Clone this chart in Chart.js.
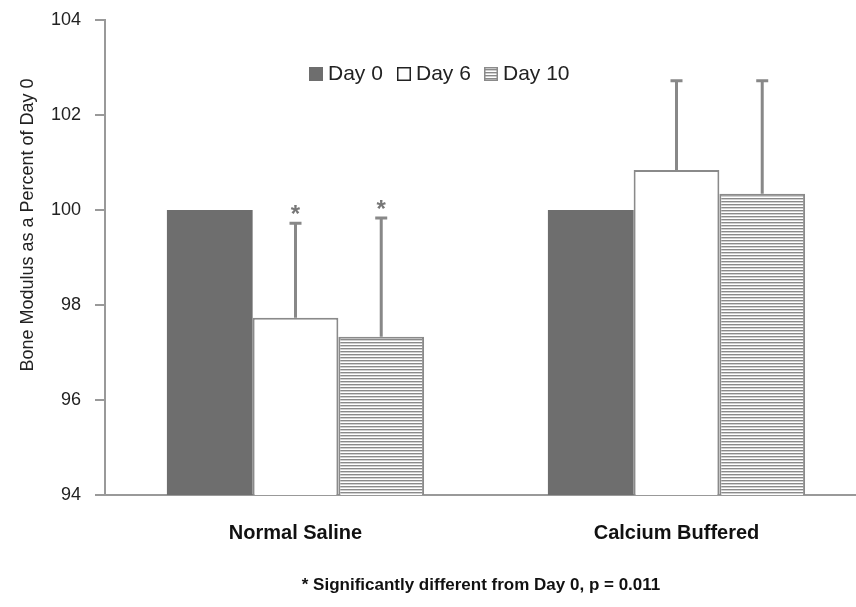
<!DOCTYPE html>
<html>
<head>
<meta charset="utf-8">
<script src="https://cdn.jsdelivr.net/npm/chart.js@4.4.1/dist/chart.umd.min.js"></script>
<style>
  html, body { margin: 0; padding: 0; background: #fff; overflow: hidden; }
  #obal { width: 856px; height: 607px; overflow: hidden; }
</style>
</head>
<body>
<div id="obal"><canvas id="myChart" width="867" height="607"></canvas></div>
<script>
let KATEGORIE = ['Normal Saline', 'Calcium Buffered'];
let SERIE = ['Day 0', 'Day 6', 'Day 10'];
let DEN0 = [100, 100];
let DEN6 = [97.73, 100.84];
let DEN10 = [97.33, 100.34];
let CHYBA0 = [0, 0];
let CHYBA6 = [1.99, 1.88];
let CHYBA10 = [2.5, 2.38];
let HVEZDA6 = [true, false];
let HVEZDA10 = [true, false];
let Y_TICKY = [94, 96, 98, 100, 102, 104];
let Y_NADPIS = 'Bone Modulus as a Percent of Day 0';
let POZNAMKA = '* Significantly different from Day 0, p = 0.011';

// pruhovaná výplň pro Day 10
function pruhy() {
    let c = document.createElement('canvas');
    c.width = 6; c.height = 3;
    let g = c.getContext('2d');
    g.fillStyle = '#ffffff';
    g.fillRect(0, 0, 6, 3);
    g.fillStyle = '#8a8a8a';
    g.fillRect(0, 0, 6, 1.4);
    return g.createPattern(c, 'repeat');
}
let vzor = pruhy();

let chyby = [CHYBA0, CHYBA6, CHYBA10];
let hvezdy = [[false, false], HVEZDA6, HVEZDA10];

let chybovePlugin = {
    id: 'chyby',
    afterDatasetsDraw(chart) {
        let c = chart.ctx;
        let y = chart.scales.y;
        chart.data.datasets.forEach((ds, d) => {
            let meta = chart.getDatasetMeta(d);
            meta.data.forEach((bar, i) => {
                let e = chyby[d][i];
                if (!e) return;
                let top = y.getPixelForValue(ds.data[i] + e);
                c.save();
                c.strokeStyle = '#888';
                c.lineWidth = 3;
                c.beginPath();
                c.moveTo(bar.x, bar.y);
                c.lineTo(bar.x, top);
                c.moveTo(bar.x - 6, top);
                c.lineTo(bar.x + 6, top);
                c.stroke();
                if (hvezdy[d][i]) {
                    c.fillStyle = '#777';
                    c.font = 'bold 24px "Liberation Sans", Arial';
                    c.textAlign = 'center';
                    c.textBaseline = 'alphabetic';
                    c.fillText('*', bar.x, top - 1);
                }
                c.restore();
            });
        });
    }
};

let legendaPlugin = {
    id: 'legenda',
    afterDraw(chart) {
        let c = chart.ctx;
        let polozky = [
            { x: 309, text: SERIE[0], fill: '#6e6e6e', stroke: '#6e6e6e' },
            { x: 397, text: SERIE[1], fill: '#ffffff', stroke: '#222' },
            { x: 484, text: SERIE[2], fill: vzor, stroke: '#8a8a8a' }
        ];
        c.save();
        c.font = '21px "Liberation Sans", Arial';
        c.textBaseline = 'middle';
        polozky.forEach(p => {
            c.fillStyle = p.fill;
            c.fillRect(p.x, 67, 14, 14);
            c.strokeStyle = p.stroke;
            c.lineWidth = 1.5;
            c.strokeRect(p.x + 0.75, 67.75, 12.5, 12.5);
            c.fillStyle = '#222';
            c.fillText(p.text, p.x + 19, 74.5);
        });
        // nadpis osy y
        c.save();
        c.translate(28, 225);
        c.rotate(-Math.PI / 2);
        c.textAlign = 'center';
        c.font = '18px "Liberation Sans", Arial';
        c.fillText(Y_NADPIS, 0, 0);
        c.restore();
        // poznámka dole
        c.font = 'bold 17px "Liberation Sans", Arial';
        c.textAlign = 'center';
        c.fillStyle = '#111';
        c.fillText(POZNAMKA, 481, 585);
        c.restore();
    }
};

let ctx = document.getElementById('myChart').getContext('2d');
let myChart = new Chart(ctx, {
    type: 'bar',
    data: {
        labels: KATEGORIE,
        datasets: [{
            label: SERIE[0],
            data: DEN0,
            backgroundColor: '#6e6e6e',
            borderColor: '#6e6e6e',
            borderWidth: 0
        }, {
            label: SERIE[1],
            data: DEN6,
            backgroundColor: '#ffffff',
            borderColor: '#8a8a8a',
            borderWidth: 2
        }, {
            label: SERIE[2],
            data: DEN10,
            backgroundColor: vzor,
            borderColor: '#8a8a8a',
            borderWidth: 2
        }]
    },
    options: {
        responsive: false,
        animation: false,
        devicePixelRatio: 1,
        categoryPercentage: 0.675,
        barPercentage: 1,
        layout: { padding: { top: 20, right: 0, left: 0, bottom: 0 } },
        plugins: {
            legend: { display: false },
            tooltip: { enabled: false }
        },
        scales: {
            x: {
                grid: { display: false, drawTicks: false },
                border: { color: '#999', width: 2 },
                ticks: {
                    color: '#111',
                    padding: 26,
                    maxRotation: 0,
                    font: { family: '"Liberation Sans", Arial', size: 20, weight: 'bold' }
                },
                afterFit(s) { s.height = 112; }
            },
            y: {
                min: 94,
                max: 104,
                afterBuildTicks(s) { s.ticks = Y_TICKY.map(v => ({ value: v })); },
                grid: { display: true, drawOnChartArea: false, tickLength: 10, color: '#999', lineWidth: 2 },
                border: { color: '#999', width: 2 },
                ticks: {
                    color: '#222',
                    padding: 14,
                    font: { family: '"Liberation Sans", Arial', size: 18 }
                },
                afterFit(s) {
                    s.width = 105;
                    s.paddingTop = 0;
                    s.paddingBottom = 0;
                }
            }
        }
    },
    plugins: [chybovePlugin, legendaPlugin]
});
</script>
</body>
</html>
